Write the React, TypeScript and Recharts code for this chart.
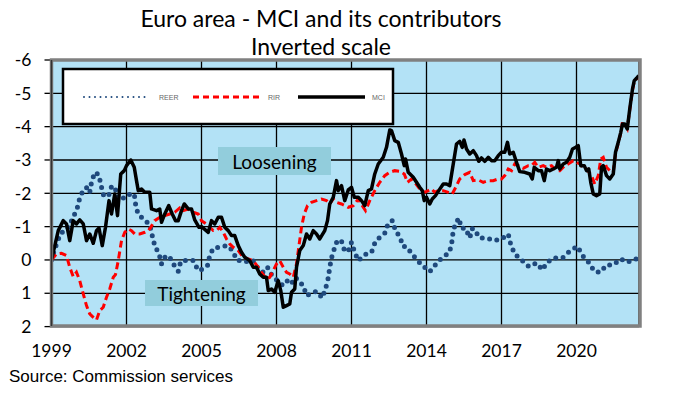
import React from 'react';
import { LineChart, Line, XAxis, YAxis, CartesianGrid } from 'recharts';

// ---- Data (inverted scale, decimal years) ----
const xTicks = [1999, 2002, 2005, 2008, 2011, 2014, 2017, 2020];
const yTicks = [-6, -5, -4, -3, -2, -1, 0, 1, 2];

const mciT = [1999.0, 1999.27, 1999.47, 1999.6, 1999.73, 1999.87, 2000.0, 2000.13, 2000.27, 2000.4, 2000.53, 2000.67, 2000.8, 2000.9, 2001.03, 2001.16, 2001.3, 2001.4, 2001.53, 2001.64, 2001.77, 2001.91, 2002.0, 2002.17, 2002.31, 2002.4, 2002.47, 2002.6, 2002.73, 2002.93, 2003.0, 2003.2, 2003.33, 2003.4, 2003.53, 2003.69, 2003.83, 2003.96, 2004.07, 2004.2, 2004.31, 2004.47, 2004.6, 2004.73, 2004.9, 2005.0, 2005.27, 2005.4, 2005.53, 2005.67, 2005.8, 2005.93, 2006.07, 2006.2, 2006.33, 2006.47, 2006.6, 2006.73, 2006.93, 2007.07, 2007.2, 2007.33, 2007.47, 2007.6, 2007.67, 2007.8, 2007.93, 2008.07, 2008.17, 2008.27, 2008.4, 2008.53, 2008.6, 2008.73, 2008.8, 2008.93, 2009.07, 2009.2, 2009.33, 2009.47, 2009.6, 2009.73, 2009.93, 2010.04, 2010.13, 2010.27, 2010.4, 2010.47, 2010.6, 2010.73, 2010.87, 2011.0, 2011.11, 2011.27, 2011.4, 2011.53, 2011.67, 2011.8, 2011.93, 2012.07, 2012.27, 2012.4, 2012.53, 2012.6, 2012.73, 2012.87, 2013.0, 2013.11, 2013.16, 2013.27, 2013.47, 2013.6, 2013.73, 2013.83, 2013.91, 2014.0, 2014.13, 2014.23, 2014.36, 2014.49, 2014.67, 2014.8, 2014.93, 2015.07, 2015.2, 2015.33, 2015.43, 2015.5, 2015.6, 2015.73, 2015.87, 2016.0, 2016.09, 2016.2, 2016.33, 2016.47, 2016.6, 2016.73, 2016.87, 2017.0, 2017.13, 2017.24, 2017.33, 2017.47, 2017.6, 2017.73, 2017.93, 2018.13, 2018.23, 2018.31, 2018.47, 2018.6, 2018.71, 2018.8, 2018.93, 2019.07, 2019.2, 2019.27, 2019.33, 2019.47, 2019.6, 2019.73, 2019.84, 2019.97, 2020.07, 2020.17, 2020.31, 2020.4, 2020.49, 2020.57, 2020.67, 2020.8, 2020.93, 2021.0, 2021.07, 2021.2, 2021.33, 2021.47, 2021.56, 2021.67, 2021.77, 2021.84, 2021.93, 2022.03, 2022.13, 2022.24, 2022.31, 2022.4, 2022.49];
const mciV = [0, -0.88, -1.18, -1.08, -0.58, -1.18, -1.08, -1.2, -1.08, -0.58, -0.78, -0.5, -0.88, -0.96, -0.43, -0.98, -1.78, -1.38, -1.98, -1.33, -2.58, -2.68, -2.83, -3.0, -2.78, -2.38, -2.08, -2.13, -2.03, -2.03, -1.53, -1.48, -1.53, -1.13, -1.38, -1.63, -1.38, -1.18, -1.18, -1.48, -1.68, -1.53, -1.53, -1.2, -0.98, -1.0, -0.83, -1.18, -1.08, -1.28, -1.28, -0.98, -0.88, -0.73, -0.73, -0.43, -0.23, -0.08, 0.02, 0.22, 0.22, 0.42, 0.52, 0.52, 0.92, 0.87, 0.97, 0.62, 0.92, 1.42, 1.37, 1.32, 0.97, 0.87, 0.22, -0.28, -0.43, -0.78, -0.63, -0.88, -0.78, -0.63, -0.88, -1.18, -1.68, -1.88, -2.38, -2.08, -2.23, -1.78, -2.1, -2.18, -1.88, -1.88, -1.78, -1.63, -2.08, -2.13, -2.58, -2.88, -3.08, -3.38, -3.9, -3.88, -3.58, -3.53, -3.18, -2.83, -3.03, -2.63, -2.48, -2.33, -2.18, -2.08, -1.78, -1.88, -1.68, -1.83, -1.93, -2.08, -2.28, -2.28, -2.23, -2.88, -3.48, -3.56, -3.38, -3.6, -3.33, -3.18, -3.28, -3.13, -2.96, -3.06, -2.96, -3.08, -2.98, -2.98, -3.13, -3.23, -3.23, -3.53, -3.18, -3.23, -2.93, -2.65, -2.63, -2.58, -2.43, -2.78, -2.68, -2.68, -2.38, -2.73, -2.68, -2.73, -2.78, -2.98, -2.73, -2.88, -2.93, -3.08, -3.33, -3.38, -3.43, -2.83, -2.83, -2.68, -2.73, -2.33, -1.98, -1.93, -1.98, -2.78, -2.83, -2.53, -2.43, -2.58, -3.23, -3.53, -3.83, -4.08, -4.08, -3.93, -4.53, -5.13, -5.38, -5.45, -5.53];

const rirT = [1999.0, 1999.2, 1999.4, 1999.6, 1999.73, 1999.87, 2000.0, 2000.13, 2000.27, 2000.4, 2000.53, 2000.67, 2000.8, 2000.93, 2001.07, 2001.2, 2001.33, 2001.47, 2001.56, 2001.67, 2001.8, 2001.93, 2002.07, 2002.2, 2002.33, 2002.53, 2002.73, 2002.87, 2002.97, 2003.13, 2003.33, 2003.53, 2003.73, 2003.93, 2004.13, 2004.27, 2004.47, 2004.67, 2004.87, 2005.0, 2005.2, 2005.33, 2005.47, 2005.6, 2005.73, 2005.87, 2006.0, 2006.13, 2006.27, 2006.47, 2006.67, 2006.87, 2007.07, 2007.27, 2007.4, 2007.6, 2007.73, 2007.87, 2008.0, 2008.13, 2008.27, 2008.4, 2008.53, 2008.67, 2008.8, 2008.89, 2009.0, 2009.11, 2009.24, 2009.4, 2009.6, 2009.8, 2010.0, 2010.13, 2010.27, 2010.4, 2010.6, 2010.75, 2010.87, 2011.07, 2011.27, 2011.47, 2011.56, 2011.73, 2011.93, 2012.13, 2012.33, 2012.53, 2012.73, 2012.93, 2013.11, 2013.24, 2013.4, 2013.53, 2013.73, 2013.93, 2014.07, 2014.2, 2014.33, 2014.47, 2014.67, 2014.87, 2015.03, 2015.17, 2015.33, 2015.53, 2015.73, 2015.87, 2016.07, 2016.27, 2016.47, 2016.67, 2016.87, 2017.0, 2017.13, 2017.27, 2017.4, 2017.53, 2017.67, 2017.87, 2018.07, 2018.2, 2018.33, 2018.47, 2018.67, 2018.8, 2019.0, 2019.2, 2019.33, 2019.53, 2019.67, 2019.87, 2020.0, 2020.13, 2020.27, 2020.4, 2020.6, 2020.73, 2020.87, 2020.97, 2021.07, 2021.2, 2021.33, 2021.47, 2021.56, 2021.67, 2021.77, 2021.84, 2021.93, 2022.03, 2022.13, 2022.24, 2022.31, 2022.4, 2022.49];
const rirV = [0, -0.18, -0.2, -0.13, 0.22, 0.5, 0.37, 0.62, 1.02, 1.37, 1.62, 1.72, 1.8, 1.52, 1.42, 1.12, 0.87, 0.52, 0.44, 0.02, -0.58, -0.83, -0.93, -0.88, -0.78, -0.78, -0.83, -0.88, -0.98, -1.18, -1.28, -1.33, -1.38, -1.43, -1.56, -1.48, -1.53, -1.43, -1.38, -1.18, -1.08, -0.98, -0.88, -0.88, -0.98, -0.83, -0.63, -0.48, -0.38, -0.28, -0.08, -0.03, 0.02, 0.22, 0.37, 0.57, 0.52, 0.32, 0.12, 0.02, 0.22, 0.37, 0.42, 0.52, 0.12, -0.38, -0.98, -1.38, -1.63, -1.73, -1.78, -1.83, -1.78, -1.68, -1.83, -1.73, -1.68, -1.63, -1.58, -1.63, -1.83, -1.58, -1.48, -1.78, -2.08, -2.33, -2.53, -2.63, -2.68, -2.66, -2.58, -2.33, -2.43, -2.33, -2.13, -2.03, -2.08, -2.13, -2.03, -2.08, -2.08, -2.03, -1.98, -2.18, -2.43, -2.56, -2.63, -2.38, -2.4, -2.33, -2.38, -2.38, -2.43, -2.43, -2.53, -2.73, -2.68, -2.88, -2.83, -2.75, -2.83, -2.83, -2.93, -2.78, -2.83, -2.78, -2.83, -2.68, -2.68, -2.83, -2.88, -2.98, -2.93, -2.88, -2.78, -2.73, -2.53, -2.28, -2.53, -3.03, -3.08, -2.78, -2.68, -2.63, -3.2, -3.5, -3.8, -4.15, -4.1, -3.95, -4.5, -5.1, -5.35, -5.43, -5.5];

const reerT = [1999.0, 1999.13, 1999.33, 1999.53, 1999.67, 1999.87, 2000.03, 2000.13, 2000.29, 2000.44, 2000.53, 2000.6, 2000.73, 2000.89, 2000.97, 2001.07, 2001.27, 2001.4, 2001.53, 2001.64, 2001.8, 2002.0, 2002.31, 2002.37, 2002.47, 2002.64, 2002.93, 2003.03, 2003.13, 2003.31, 2003.4, 2003.57, 2003.73, 2003.89, 2004.07, 2004.17, 2004.33, 2004.67, 2004.87, 2005.07, 2005.24, 2005.33, 2005.47, 2005.73, 2006.0, 2006.11, 2006.24, 2006.44, 2006.73, 2006.87, 2007.07, 2007.27, 2007.47, 2007.64, 2007.8, 2008.0, 2008.13, 2008.27, 2008.47, 2008.6, 2008.76, 2008.93, 2009.07, 2009.2, 2009.4, 2009.6, 2009.83, 2009.97, 2010.07, 2010.13, 2010.2, 2010.33, 2010.44, 2010.6, 2010.73, 2010.87, 2011.0, 2011.13, 2011.27, 2011.53, 2011.8, 2011.93, 2012.1, 2012.33, 2012.47, 2012.64, 2012.76, 2012.93, 2013.07, 2013.2, 2013.4, 2013.64, 2013.89, 2014.13, 2014.36, 2014.63, 2014.89, 2015.0, 2015.04, 2015.13, 2015.29, 2015.4, 2015.56, 2015.73, 2015.84, 2015.96, 2016.13, 2016.4, 2016.73, 2017.0, 2017.27, 2017.37, 2017.53, 2017.8, 2018.09, 2018.4, 2018.64, 2018.8, 2019.07, 2019.44, 2019.71, 2020.04, 2020.15, 2020.27, 2020.51, 2020.71, 2020.96, 2021.2, 2021.47, 2021.77, 2022.04, 2022.33, 2022.49];
const reerV = [0, -0.33, -0.73, -0.93, -0.98, -1.28, -1.56, -1.86, -2.13, -2.18, -2.03, -2.33, -2.63, -2.56, -2.28, -1.96, -1.9, -2.2, -2.2, -1.88, -1.8, -1.96, -1.98, -1.63, -1.36, -1.26, -1.06, -0.73, -0.43, -0.16, 0.12, -0.13, -0.08, 0.14, 0.34, 0.04, 0.02, 0.02, 0.32, 0.27, 0.17, -0.13, -0.35, -0.38, -0.43, -0.4, -0.26, 0.02, 0.02, 0.07, 0.02, 0.27, 0.37, 0.22, 0.44, 0.6, 0.7, 0.77, 0.6, 0.7, 0.52, 0.67, 0.77, 1.07, 1.0, 0.94, 1.14, 0.84, 0.54, 0.22, -0.06, -0.38, -0.6, -0.56, -0.26, -0.26, -0.53, -0.23, 0.02, -0.16, -0.23, -0.5, -0.66, -0.8, -1.1, -1.18, -0.88, -0.7, -0.4, -0.4, -0.2, 0.02, 0.2, 0.35, 0.14, -0.08, -0.2, -0.43, -0.73, -1.03, -1.26, -0.95, -0.95, -0.66, -0.95, -0.86, -0.66, -0.66, -0.58, -0.63, -0.78, -0.46, -0.18, 0, 0.2, 0.09, 0.3, 0.09, -0.06, -0.06, -0.25, -0.41, -0.26, -0.11, 0.09, 0.34, 0.37, 0.15, 0.15, -0.03, 0.07, -0.03, -0.03];

const zip = (ts: number[], vs: number[]) => ts.map((t, i) => ({ t, v: vs[i] }));
const mciData = zip(mciT, mciV);
const rirData = zip(rirT, rirV);
const reerData = zip(reerT, reerV);

const FONT = 'Lato, "Open Sans", sans-serif';
const NAVY = '#1f497d';
const BG = '#b3e2f6';
const BOXFILL = '#92cddc';

export default function App() {
  return (
    <div style={{ position: 'absolute', left: 0, top: 0, width: 682, height: 398, background: '#fff' }}>
      <LineChart
        width={682}
        height={398}
        margin={{ top: 60, right: 43, left: 0, bottom: 41.4 }}
      >
        <CartesianGrid stroke="#000" strokeWidth={1.3} fill={BG} fillOpacity={1} />
        <XAxis
          dataKey="t"
          type="number"
          domain={[1999, 2022.5]}
          ticks={xTicks}
          interval={0}
          allowDataOverflow
          height={30}
          tickLine={false}
          axisLine={false}
          tickSize={6}
          tickMargin={12}
          tick={{ fill: '#000', fontSize: 17.5, fontFamily: FONT }}
        />
        <YAxis
          type="number"
          domain={[-6, 2]}
          reversed
          ticks={yTicks}
          interval={0}
          allowDataOverflow
          width={51.5}
          tickSize={7}
          tickMargin={13}
          tickLine={{ stroke: '#000', strokeWidth: 1.3 }}
          axisLine={{ stroke: '#222', strokeWidth: 2 }}
          tick={{ fill: '#000', fontSize: 17.5, fontFamily: FONT }}
        />
        <Line
          data={reerData}
          dataKey="v"
          type="linear"
          stroke={NAVY}
          strokeWidth={5}
          strokeDasharray="0 7.5"
          strokeLinecap="round"
          dot={false}
          activeDot={false}
          isAnimationActive={false}
        />
        <Line
          data={rirData}
          dataKey="v"
          type="linear"
          stroke="#ff0000"
          strokeWidth={3}
          strokeDasharray="7 4"
          dot={false}
          activeDot={false}
          isAnimationActive={false}
        />
        <Line
          data={mciData}
          dataKey="v"
          type="linear"
          stroke="#000"
          strokeWidth={3.5}
          strokeLinejoin="round"
          dot={false}
          activeDot={false}
          isAnimationActive={false}
        />
      </LineChart>
      <svg
        width={682}
        height={398}
        style={{ position: 'absolute', left: 0, top: 0, pointerEvents: 'none' }}
      >
        {/* plot frame */}
        <rect x={51.5} y={60} width={588.5} height={266} fill="none" stroke="#808080" strokeWidth={3.5} />
        <line x1={51.5} y1={60} x2={51.5} y2={326} stroke="#333" strokeWidth={1.5} />
        {/* title */}
        <text x={321} y={18} textAnchor="middle" dominantBaseline="central" fontFamily={FONT} fontSize={23} fill="#000">
          Euro area - MCI and its contributors
        </text>
        <text x={321} y={46} textAnchor="middle" dominantBaseline="central" fontFamily={FONT} fontSize={23} fill="#000">
          Inverted scale
        </text>
        {/* legend */}
        <rect x={63} y={69} width={330} height={55} fill="#fff" stroke="#000" strokeWidth={2.5} />
        <line x1={84} y1={97} x2={150} y2={97} stroke={NAVY} strokeWidth={2} strokeDasharray="0 5.5" strokeLinecap="round" />
        <text x={159} y={97} dominantBaseline="central" fontFamily="Liberation Sans, Arial, sans-serif" fontSize={7} fill="#666">REER</text>
        <line x1={193} y1={97} x2={261} y2={97} stroke="#ff0000" strokeWidth={3} strokeDasharray="6 4" />
        <text x={268} y={97} dominantBaseline="central" fontFamily="Liberation Sans, Arial, sans-serif" fontSize={7} fill="#666">RIR</text>
        <line x1={298} y1={97} x2={365} y2={97} stroke="#000" strokeWidth={3.5} />
        <text x={372} y={97} dominantBaseline="central" fontFamily="Liberation Sans, Arial, sans-serif" fontSize={7} fill="#666">MCI</text>
        {/* annotations */}
        <rect x={218} y={147} width={113} height={28} fill={BOXFILL} />
        <text x={274.5} y={161} textAnchor="middle" dominantBaseline="central" fontFamily={FONT} fontSize={19} fill="#000">Loosening</text>
        <rect x={145} y={280} width={113} height={26} fill={BOXFILL} />
        <text x={201.5} y={293} textAnchor="middle" dominantBaseline="central" fontFamily={FONT} fontSize={19} fill="#000">Tightening</text>
        {/* source */}
        <text x={9} y={376} dominantBaseline="central" fontFamily="Liberation Sans, Arial, sans-serif" fontSize={17} fill="#000">
          Source: Commission services
        </text>
      </svg>
    </div>
  );
}
